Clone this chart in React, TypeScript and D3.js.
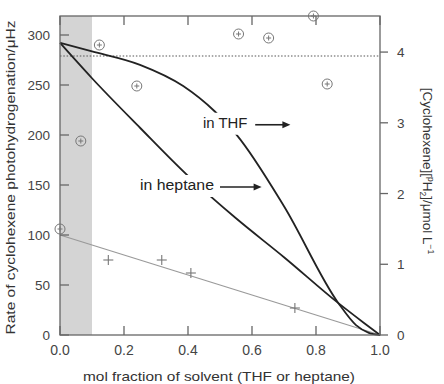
import * as d3 from 'd3';
import * as React from 'react';

// x = mol fraction of solvent
const xTicks = [0, 0.2, 0.4, 0.6, 0.8, 1.0];
const rateTicks = [0, 50, 100, 150, 200, 250, 300];
const concTicks = [0, 1, 2, 3, 4];

// circled points (rate, left axis)
const circledX = [0.0, 0.065, 0.123, 0.24, 0.558, 0.652, 0.792, 0.835];
const circledRate = [106, 194, 290, 249, 301, 297, 319, 251];

// plain crosses (rate, left axis)
const crossX = [0.151, 0.318, 0.409, 0.734];
const crossRate = [75, 75, 62, 27];

// linear fit through the crosses
const fitX = [0, 1];
const fitRate = [100, 0];

// dotted reference level (left axis)
const refRate = 279;

// shaded region
const bandX = [0, 0.1];

// concentration curves (right axis)
const thfX = [0, 0.1, 0.25, 0.385, 0.484, 0.552, 0.7, 0.87, 0.925, 0.965, 1.0];
const thfConc = [4.13, 4.01, 3.82, 3.52, 3.16, 2.83, 1.82, 0.45, 0.14, 0.03, 0];
const heptX = [0, 0.1, 0.25, 0.4, 0.55, 0.7, 0.87, 0.95, 1.0];
const heptConc = [4.13, 3.63, 2.93, 2.25, 1.65, 1.1, 0.45, 0.17, 0];

const W = 444;
const H = 384;
const font = '"Liberation Sans", Arial, sans-serif';

const x = d3.scaleLinear().domain([0, 1]).range([60, 380]);
const yL = d3.scaleLinear().domain([0, 319]).range([335, 16]);
const yR = d3.scaleLinear().domain([0, 4.51]).range([335, 16]);

const curve = d3
  .line<[number, number]>()
  .x((d) => x(d[0]))
  .y((d) => yR(d[1]))
  .curve(d3.curveMonotoneX);

const Label = ({ tx, ty, text, ax1, ax2 }) => {
  // tx,ty in data units (x, conc); arrow from ax1 to ax2 in x units
  const px = x(tx);
  const py = yR(ty);
  const w = text.length * 7.4;
  return (
    <g>
      <rect x={px - 3} y={py - 15} width={w + 6} height={22} fill="#fff" />
      <text x={px} y={py} fontSize={14} fontFamily={font} fill="#222" textLength={w} lengthAdjust="spacingAndGlyphs">
        {text}
      </text>
      <line x1={x(ax1)} x2={x(ax2) - 6} y1={py - 3} y2={py - 3} stroke="#222" strokeWidth={1.6} />
      <path d={`M${x(ax2)},${py - 3}L${x(ax2) - 8},${py - 6.5}L${x(ax2) - 8},${py + 0.5}Z`} fill="#222" />
    </g>
  );
};

const App = () => {
  const [l, r] = [x.range()[0], x.range()[1]];
  const [b, t] = [yL.range()[0], yL.range()[1]];
  const axisCol = '#666';
  const ptCol = '#777';

  return (
    <svg width={W} height={H} style={{ position: 'absolute', left: 0, top: 0, background: '#fff' }}>
      <rect x={x(bandX[0])} y={t} width={x(bandX[1]) - x(bandX[0])} height={b - t} fill="#d4d4d4" />

      {/* dotted level */}
      <line x1={l} x2={r} y1={yL(refRate)} y2={yL(refRate)} stroke="#555" strokeWidth={1.2} strokeDasharray="1.5,1.8" />

      {/* fit line */}
      <line x1={x(fitX[0])} y1={yL(fitRate[0])} x2={x(fitX[1])} y2={yL(fitRate[1])} stroke="#999" strokeWidth={1.2} />

      {/* curves */}
      <path d={curve(thfX.map((v, i) => [v, thfConc[i]]) as [number, number][])} fill="none" stroke="#222" strokeWidth={1.8} />
      <path d={curve(heptX.map((v, i) => [v, heptConc[i]]) as [number, number][])} fill="none" stroke="#222" strokeWidth={1.8} />

      <Label tx={0.447} ty={2.93} text="in THF" ax1={0.61} ax2={0.72} />
      <Label tx={0.25} ty={2.05} text="in heptane" ax1={0.5} ax2={0.63} />

      {/* frame */}
      <rect x={l} y={t} width={r - l} height={b - t} fill="none" stroke={axisCol} strokeWidth={1.3} />

      {/* x ticks bottom/top */}
      {xTicks.map((v) => (
        <g key={'x' + v}>
          <line x1={x(v)} x2={x(v)} y1={b} y2={b - 9} stroke={axisCol} strokeWidth={1.3} />
          <line x1={x(v)} x2={x(v)} y1={t} y2={t + 9} stroke={axisCol} strokeWidth={1.3} />
          <text x={x(v)} y={355} textAnchor="middle" fontSize={14} fontFamily={font} fill="#444">
            {v.toFixed(1)}
          </text>
        </g>
      ))}

      {/* left ticks */}
      {rateTicks.map((v) => (
        <g key={'l' + v}>
          <line x1={l} x2={l + 9} y1={yL(v)} y2={yL(v)} stroke={axisCol} strokeWidth={1.3} />
          <text x={50} y={yL(v) + 5} textAnchor="end" fontSize={13.5} fontFamily={font} fill="#444">
            {v}
          </text>
        </g>
      ))}

      {/* right ticks */}
      {concTicks.map((v) => (
        <g key={'r' + v}>
          <line x1={r} x2={r + 8} y1={yR(v)} y2={yR(v)} stroke={axisCol} strokeWidth={1.3} />
          <text x={397} y={yR(v) + 5} fontSize={13.5} fontFamily={font} fill="#444">
            {v}
          </text>
        </g>
      ))}

      {/* circled points */}
      {circledX.map((v, i) => (
        <g key={'c' + i} stroke={ptCol} strokeWidth={1} fill="none">
          <circle cx={x(v)} cy={yL(circledRate[i])} r={5} />
          <line x1={x(v) - 2.5} x2={x(v) + 2.5} y1={yL(circledRate[i])} y2={yL(circledRate[i])} />
          <line x1={x(v)} x2={x(v)} y1={yL(circledRate[i]) - 2.5} y2={yL(circledRate[i]) + 2.5} />
        </g>
      ))}

      {/* crosses */}
      {crossX.map((v, i) => (
        <g key={'p' + i} stroke={ptCol} strokeWidth={1.1}>
          <line x1={x(v) - 5} x2={x(v) + 5} y1={yL(crossRate[i])} y2={yL(crossRate[i])} />
          <line x1={x(v)} x2={x(v)} y1={yL(crossRate[i]) - 5} y2={yL(crossRate[i]) + 5} />
        </g>
      ))}

      {/* axis titles */}
      <text
        transform={`translate(15,${(t + b) / 2 + 2}) rotate(-90)`}
        textAnchor="middle"
        fontSize={13}
        fontFamily={font}
        fill="#333"
        textLength={314}
        lengthAdjust="spacingAndGlyphs"
      >
        Rate of cyclohexene photohydrogenation/μHz
      </text>
      <text x={219} y={381} textAnchor="middle" fontSize={13} fontFamily={font} fill="#333" textLength={272} lengthAdjust="spacingAndGlyphs">
        mol fraction of solvent (THF or heptane)
      </text>
      <text transform={`translate(423,171) rotate(90)`} textAnchor="middle" fontSize={13.5} fontFamily={font} fill="#333">
        [Cyclohexene][
        <tspan fontSize={8.5} dy={-5}>p</tspan>
        <tspan dy={5}>H</tspan>
        <tspan fontSize={8.5} dy={3}>2</tspan>
        <tspan dy={-3}>]/μmol L</tspan>
        <tspan fontSize={8.5} dy={-5}>−1</tspan>
      </text>
    </svg>
  );
};

export default App;
